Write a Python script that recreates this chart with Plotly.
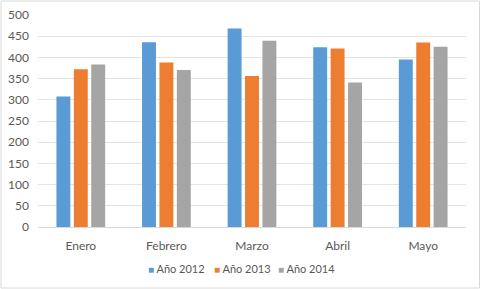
import plotly.graph_objects as go

categories = ["Enero", "Febrero", "Marzo", "Abril", "Mayo"]
series_names = ["Año 2012", "Año 2013", "Año 2014"]
values_2012 = [308, 436, 468, 424, 395]
values_2013 = [372, 388, 356, 421, 435]
values_2014 = [383, 370, 439, 341, 425]
colors = ["#5B9BD5", "#ED7D31", "#A5A5A5"]

W, H = 481, 289
ml, mr, mt, mb = 38, 15, 15, 62
pw, ph = W - ml - mr, H - mt - mb

fig = go.Figure()
for name, vals, c in zip(series_names, [values_2012, values_2013, values_2014], colors):
    fig.add_trace(go.Bar(x=categories, y=vals, name=name, marker_color=c,
                         marker_line_width=0, showlegend=False))

def px(x):
    return (x - ml) / pw
def py(y):
    return (H - mb - y) / ph

fig.add_shape(type="rect", xref="paper", yref="paper",
              x0=px(1), x1=px(479.5), y0=py(288), y1=py(1),
              line=dict(color="#D9D9D9", width=1), fillcolor="rgba(0,0,0,0)",
              layer="above")

# compact legend entries
legend_x = [146, 212, 276]
for n, c, lx in zip(series_names, colors, legend_x):
    fig.add_annotation(xref="paper", yref="paper", x=px(lx), y=py(268),
                       xanchor="left", yanchor="middle", showarrow=False,
                       text=f"<span style='color:{c};font-size:10px'>■</span> {n}",
                       font=dict(family="Lato", size=11, color="#595959"))

fig.update_layout(
    width=W, height=H,
    margin=dict(l=ml, r=mr, t=mt, b=mb, autoexpand=False),
    paper_bgcolor="white", plot_bgcolor="white",
    barmode="group", bargap=0.39, bargroupgap=0.2,
    font=dict(family="Lato", size=12, color="#595959"),
    xaxis=dict(showgrid=False, showline=True, linecolor="#D9D9D9", linewidth=1,
               ticks="", ticklabelstandoff=8, automargin=False,
               tickfont=dict(size=12, color="#595959")),
    yaxis=dict(range=[0, 500], dtick=50, showgrid=True, gridcolor="#E3E3E3",
               gridwidth=1, zeroline=False, ticks="", showline=False,
               automargin=False, ticklabelstandoff=8,
               tickfont=dict(size=12, color="#595959")),
)

fig.write_html("out.html")
